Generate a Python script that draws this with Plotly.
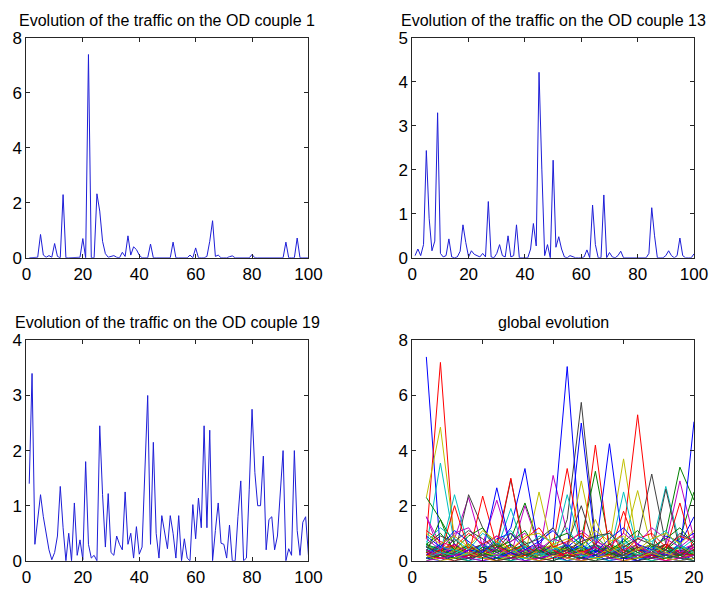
import plotly.graph_objects as go

W, H = 719, 596

# ---------------- data ----------------
x100 = list(range(1, 101))

od1 = [0, 0, 0, 0.02, 0.85, 0.1, 0.02, 0.08, 0.02, 0.52,
       0.05, 0, 2.3, 0, 0, 0, 0, 0, 0.02, 0.7,
       0, 7.4, 0, 0, 2.33, 1.7, 0.6, 0.15, 0.02, 0.05,
       0.08, 0.02, 0, 0.2, 0.05, 0.8, 0.1, 0.4, 0.3, 0.1,
       0, 0, 0, 0.5, 0, 0, 0, 0, 0, 0,
       0, 0.57, 0, 0, 0, 0, 0, 0.1, 0, 0.36,
       0, 0, 0, 0.05, 0.6, 1.35, 0.05, 0.1, 0, 0,
       0, 0.04, 0.07, 0, 0, 0, 0, 0, 0, 0.12,
       0, 0, 0, 0, 0, 0, 0, 0, 0, 0,
       0, 0.57, 0, 0, 0, 0.72, 0, 0, 0, 0]

od13 = [0.05, 0.2, 0.05, 0.3, 2.44, 0.9, 0.16, 0.38, 3.3, 0.1,
        0.02, 0.05, 0.43, 0.02, 0, 0.02, 0.15, 0.75, 0.35, 0.02,
        0.16, 0.08, 0.05, 0.02, 0.1, 0.02, 1.28, 0.02, 0, 0.1,
        0.3, 0.05, 0.02, 0.5, 0.02, 0.05, 0.75, 0, 0, 0,
        0, 0.2, 0.78, 0.27, 4.22, 2.0, 0.05, 0.3, 0, 2.22,
        0.24, 0.48, 0.2, 0.02, 0, 0.05, 0.02, 0, 0, 0,
        0.02, 0.18, 0, 1.2, 0.3, 0, 0, 1.43, 0, 0.12,
        0.02, 0, 0.05, 0.15, 0, 0, 0, 0, 0, 0,
        0, 0, 0, 0.1, 1.14, 0.5, 0, 0, 0, 0.05,
        0.16, 0.05, 0, 0.05, 0.45, 0.05, 0, 0, 0, 0.09]

od19 = [1.4, 3.4, 0.3, 0.75, 1.2, 0.8, 0.5, 0.2, 0.02, 0.15,
        0.45, 1.35, 0.6, 0, 0.5, 0, 1.05, 0.1, 0.38, 0.02,
        1.8, 0.3, 0.05, 0.1, 0, 2.45, 1.2, 0.25, 1.22, 0.15,
        0.1, 0.45, 0.3, 0.2, 1.25, 0.3, 0.5, 0.05, 0.62, 0.12,
        0.25, 1.6, 3.0, 0.3, 2.15, 0.5, 0.05, 0.82, 0.5, 0.22,
        0.82, 0.5, 0.05, 0.82, 0, 0.4, 0.05, 0, 1.02, 0.4,
        1.14, 0.6, 2.45, 0.6, 2.37, 0, 0.55, 1.05, 0.32, 0.3,
        0.05, 0.65, 0, 0, 0.8, 1.45, 0, 0.05, 1.3, 2.75,
        1.6, 1.0, 1.0, 1.9, 0.2, 0.75, 0.8, 0.2, 0.45, 1.2,
        2.0, 0, 0.22, 0.1, 2.0, 0.55, 0.1, 0.7, 0.8, 0.1]

x20 = list(range(1, 21))

global_series = [
    [7.4, 0.3, 0.1, 0.6, 0.2, 0.0, 0.4, 0.1, 0.0, 0.3, 0.1, 0.0, 0.2, 0.5, 0.1, 0.0, 0.3, 0.1, 0.0, 0.2],
    [0.4, 0.2, 0.8, 0.3, 0.1, 0.5, 0.2, 0.7, 0.1, 0.3, 0.6, 0.2, 0.4, 0.1, 0.8, 0.3, 0.2, 1.0, 3.4, 2.2],
    [0.8, 7.2, 0.3, 0.1, 0.5, 0.2, 0.0, 0.4, 0.1, 0.3, 0.0, 0.2, 0.6, 0.1, 0.3, 0.0, 0.2, 0.4, 0.1, 0.3],
    [0.5, 3.55, 0.6, 0.2, 0.4, 0.1, 0.3, 0.0, 0.2, 0.5, 0.1, 0.3, 0.2, 0.0, 0.4, 0.2, 0.1, 0.3, 0.6, 0.2],
    [0.3, 0.1, 0.5, 0.2, 0.6, 0.3, 0.1, 0.4, 0.2, 3.1, 1.0, 0.3, 0.1, 0.5, 0.2, 0.4, 0.1, 0.3, 0.2, 0.5],
    [2.3, 4.85, 0.8, 0.3, 0.1, 0.4, 0.2, 0.5, 0.1, 0.3, 0.2, 0.6, 0.1, 0.2, 0.4, 0.1, 0.3, 0.2, 0.1, 0.3],
    [0.2, 0.5, 0.1, 0.3, 0.6, 0.2, 0.4, 0.1, 0.3, 0.2, 1.5, 5.75, 0.8, 0.3, 0.1, 0.4, 0.2, 0.5, 0.1, 0.3],

    [0.1, 0.4, 0.2, 0.0, 0.3, 0.5, 0.1, 0.2, 0.6, 1.2, 7.05, 0.2, 0.4, 0.1, 0.3, 0.0, 0.2, 0.5, 0.1, 0.4],
    [0.6, 0.2, 0.4, 0.1, 0.3, 0.7, 0.2, 0.1, 0.5, 0.3, 0.2, 0.8, 3.25, 0.6, 0.2, 0.4, 0.1, 0.3, 0.5, 0.2],
    [0.2, 0.6, 0.1, 0.4, 0.2, 0.0, 0.3, 0.5, 0.1, 0.2, 0.4, 0.3, 4.2, 0.3, 0.1, 0.5, 0.2, 0.0, 0.3, 0.6],
    [0.4, 0.1, 0.3, 0.6, 0.2, 0.5, 0.0, 0.3, 0.2, 0.4, 0.1, 0.6, 0.2, 0.3, 0.8, 0.1, 0.5, 2.7, 0.6, 0.2],
    [1.6, 0.3, 0.8, 2.3, 0.5, 0.2, 0.4, 0.1, 0.6, 0.3, 0.2, 0.5, 0.1, 0.4, 0.2, 0.6, 0.3, 0.1, 0.4, 0.2],
    [0.3, 0.5, 0.2, 0.4, 0.1, 0.6, 0.3, 0.2, 0.4, 0.1, 0.5, 0.2, 0.3, 0.6, 3.7, 0.4, 0.2, 0.5, 0.1, 0.3],
    [0.1, 0.3, 0.6, 0.2, 0.4, 0.1, 0.5, 0.3, 0.2, 0.6, 0.1, 0.4, 0.2, 0.3, 0.5, 0.8, 3.15, 0.6, 0.2, 0.4],

    [0.5, 0.2, 0.4, 0.1, 0.3, 0.6, 0.2, 0.5, 0.1, 0.3, 0.4, 5.0, 0.6, 0.2, 0.5, 0.1, 0.3, 0.2, 0.6, 0.1],
    [0.2, 0.5, 0.1, 0.3, 0.6, 0.2, 0.4, 0.1, 0.5, 0.3, 0.2, 0.4, 0.6, 0.1, 0.3, 0.5, 0.2, 0.4, 0.8, 2.5],
    [0.3, 0.1, 0.5, 0.2, 0.4, 0.1, 0.6, 0.3, 0.2, 0.5, 0.1, 0.4, 0.2, 0.6, 1.0, 5.3, 0.9, 0.2, 0.4, 0.1],
    [0.6, 0.3, 2.4, 0.5, 0.2, 0.4, 0.1, 0.3, 0.6, 0.2, 0.5, 0.1, 0.4, 0.2, 0.3, 0.6, 0.1, 0.5, 0.2, 0.4],
    [0.2, 0.4, 0.1, 0.6, 0.3, 0.2, 0.5, 0.1, 0.4, 0.3, 0.6, 0.2, 0.1, 0.5, 0.3, 0.2, 0.4, 0.6, 2.9, 0.8],
    [0.4, 0.2, 0.6, 0.1, 0.3, 0.5, 0.2, 0.4, 0.1, 0.6, 0.3, 2.9, 0.5, 0.2, 0.4, 0.1, 0.3, 0.6, 0.2, 0.5],
    [0.3, 0.6, 0.2, 2.4, 1.2, 0.3, 0.5, 0.1, 0.4, 0.2, 0.6, 0.3, 0.1, 0.5, 0.2, 0.4, 0.6, 0.1, 0.3, 0.2],

    [0.2, 0.5, 0.3, 0.1, 0.4, 0.2, 0.6, 0.1, 0.3, 0.5, 0.2, 0.6, 0.3, 4.25, 0.4, 0.2, 0.5, 0.1, 0.3, 0.6],
    [2.3, 1.5, 0.6, 0.2, 0.4, 0.1, 0.5, 0.3, 0.2, 0.6, 0.1, 0.4, 0.2, 0.5, 0.3, 0.1, 0.4, 0.6, 0.2, 0.3],
    [0.4, 0.1, 0.3, 0.6, 0.2, 0.5, 0.1, 0.4, 0.3, 0.6, 3.35, 0.5, 0.2, 0.4, 0.1, 0.3, 0.6, 0.2, 0.5, 0.1],
    [0.1, 0.4, 0.2, 0.5, 0.3, 0.1, 0.6, 0.2, 0.4, 0.1, 0.5, 0.3, 0.6, 0.2, 2.5, 0.4, 0.1, 0.3, 0.5, 0.2],
    [0.5, 0.3, 0.1, 0.4, 0.6, 2.2, 0.5, 0.2, 0.4, 0.1, 0.3, 0.6, 0.2, 0.5, 0.1, 0.4, 0.3, 0.2, 0.6, 0.1],
    [0.2, 0.6, 0.4, 0.1, 0.3, 0.5, 0.2, 0.6, 0.1, 0.4, 0.2, 0.3, 0.5, 0.1, 0.6, 2.55, 0.4, 0.2, 0.3, 0.5],
    [0.6, 0.2, 0.4, 0.3, 0.1, 0.5, 2.95, 0.4, 0.2, 0.6, 0.1, 0.3, 0.5, 0.2, 0.4, 0.1, 0.6, 0.3, 0.2, 0.4],

    [0.3, 0.1, 0.5, 0.2, 0.6, 0.3, 0.1, 0.4, 0.2, 0.5, 0.3, 0.6, 0.1, 0.4, 0.2, 0.5, 0.3, 0.1, 0.2, 5.05],
    [0.5, 0.3, 0.2, 0.6, 0.1, 0.4, 0.8, 2.1, 0.6, 0.2, 0.5, 0.1, 0.3, 0.6, 0.2, 0.4, 0.1, 0.5, 0.3, 0.2],
    [0.1, 0.4, 0.6, 0.2, 2.35, 0.5, 0.3, 0.1, 0.4, 0.2, 0.6, 0.3, 0.5, 0.1, 0.4, 0.2, 0.3, 0.6, 0.1, 0.5],
    [0.4, 0.6, 0.1, 0.3, 0.5, 0.2, 0.4, 0.1, 0.6, 0.3, 2.4, 0.5, 0.2, 0.4, 0.1, 0.3, 0.6, 0.2, 0.5, 0.3],
    [0.2, 0.3, 0.5, 0.1, 0.4, 0.6, 0.2, 2.0, 0.5, 0.1, 0.3, 0.2, 0.6, 0.4, 0.1, 0.5, 0.3, 0.2, 0.4, 0.6],
    [0.6, 0.2, 0.3, 0.5, 0.1, 0.4, 0.6, 0.2, 2.5, 0.3, 0.1, 0.5, 0.2, 0.4, 0.6, 0.1, 0.3, 0.5, 0.2, 0.4],
    [0.1, 0.5, 0.2, 0.4, 0.6, 0.1, 0.3, 0.5, 0.2, 0.4, 0.6, 0.2, 0.5, 0.1, 0.3, 0.6, 0.2, 2.6, 0.4, 0.1],

    [0.4, 0.2, 0.6, 0.3, 0.1, 0.5, 1.2, 3.35, 0.4, 0.2, 0.6, 0.1, 0.3, 0.5, 0.2, 0.4, 0.1, 0.6, 0.3, 0.2],
    [0.3, 1.5, 0.2, 0.5, 0.3, 0.1, 0.4, 0.6, 0.2, 0.3, 0.5, 0.1, 0.4, 0.2, 0.6, 0.3, 0.1, 0.5, 0.2, 0.4],
    [0.2, 0.4, 0.1, 0.5, 0.3, 0.6, 3.0, 0.2, 0.5, 0.1, 0.4, 0.3, 0.2, 0.6, 0.1, 0.5, 0.3, 0.4, 2.1, 0.3],
    [0.5, 0.1, 0.3, 0.2, 0.6, 0.4, 1.9, 0.3, 0.1, 0.5, 0.2, 0.6, 0.3, 0.1, 0.4, 0.2, 0.5, 0.3, 0.6, 0.1],
    [1.6, 0.6, 0.2, 0.4, 0.1, 0.3, 0.5, 0.2, 0.6, 0.4, 0.1, 0.3, 0.5, 0.2, 0.6, 0.1, 0.4, 0.2, 0.3, 0.5],
    [0.1, 0.3, 0.5, 0.2, 0.4, 0.6, 0.1, 0.3, 0.2, 0.5, 0.4, 0.1, 1.5, 0.3, 0.6, 0.2, 0.4, 0.1, 0.5, 0.3],
    [0.4, 0.1, 0.3, 0.6, 0.2, 0.4, 0.1, 0.5, 0.3, 0.2, 0.6, 2.0, 0.4, 0.2, 0.5, 0.1, 0.3, 0.6, 0.2, 0.4],

    [0.2, 0.6, 0.1, 0.4, 0.3, 2.65, 0.5, 0.2, 0.4, 0.1, 0.3, 0.6, 0.2, 0.5, 0.1, 0.4, 0.3, 0.2, 0.6, 1.6],
    [0.6, 0.4, 0.2, 0.1, 0.5, 0.3, 0.6, 0.2, 0.4, 0.1, 0.3, 0.5, 0.2, 0.6, 0.4, 0.2, 0.1, 0.3, 0.5, 0.2],
    [0.3, 0.2, 2.0, 0.4, 0.1, 0.5, 0.3, 0.6, 0.2, 0.4, 0.1, 0.3, 0.5, 0.2, 1.8, 0.4, 0.1, 0.6, 0.3, 0.2],
    [0.1, 0.5, 0.4, 0.2, 0.6, 0.1, 0.3, 0.5, 0.2, 0.4, 0.6, 0.2, 0.1, 0.3, 0.5, 0.2, 0.4, 0.1, 0.6, 0.3],
    [0.4, 0.2, 0.6, 0.3, 0.1, 0.5, 0.2, 0.4, 0.6, 0.1, 0.3, 0.2, 0.5, 0.1, 0.4, 0.6, 0.2, 0.3, 0.1, 0.5],
    [0.2, 0.1, 0.4, 0.6, 0.3, 0.2, 0.5, 0.1, 0.4, 0.6, 0.2, 0.3, 0.1, 0.5, 0.2, 0.4, 0.6, 0.3, 0.1, 0.2],
    [0.5, 0.3, 0.1, 0.2, 0.4, 0.6, 0.3, 0.1, 0.5, 0.2, 0.4, 0.1, 0.6, 0.3, 0.2, 0.5, 0.1, 0.4, 0.2, 0.6],

    [0.1, 0.0, 0.2, 0.1, 0.0, 0.1, 0.3, 0.0, 0.1, 0.2, 0.0, 0.1, 0.2, 0.0, 0.1, 0.0, 0.2, 0.1, 0.0, 0.1],
    [0.0, 0.2, 0.1, 0.0, 0.3, 0.1, 0.0, 0.2, 0.1, 0.0, 0.2, 0.1, 0.0, 0.3, 0.1, 0.2, 0.0, 0.1, 0.2, 0.0],
    [0.2, 0.1, 0.0, 0.2, 0.1, 0.0, 0.1, 0.2, 0.0, 0.1, 0.3, 0.0, 0.1, 0.2, 0.0, 0.1, 0.2, 0.0, 0.1, 0.2],
    [0.1, 0.3, 0.2, 0.0, 0.1, 0.2, 0.0, 0.1, 0.3, 0.1, 0.0, 0.2, 0.1, 0.0, 0.2, 0.1, 0.0, 0.2, 0.1, 0.0],
    [0.0, 0.1, 0.2, 0.1, 0.0, 0.2, 0.1, 0.0, 0.1, 0.2, 0.1, 0.0, 0.3, 0.1, 0.0, 0.2, 0.1, 0.0, 0.1, 0.2],
    [0.2, 0.0, 0.1, 0.3, 0.1, 0.0, 0.2, 0.1, 0.0, 0.2, 0.1, 0.0, 0.1, 0.2, 0.0, 0.1, 0.3, 0.1, 0.0, 0.1],
    [0.1, 0.2, 0.0, 0.1, 0.2, 0.0, 0.1, 0.3, 0.1, 0.0, 0.2, 0.1, 0.0, 0.1, 0.2, 0.0, 0.1, 0.2, 0.1, 0.0],

    [0.9, 0.5, 1.1, 0.7, 0.3, 0.8, 1.0, 0.4, 0.7, 1.1, 0.5, 0.9, 0.3, 0.8, 1.2, 0.6, 0.4, 0.9, 0.7, 1.0],
    [0.6, 1.0, 0.4, 0.9, 1.2, 0.5, 0.7, 1.1, 0.3, 0.8, 1.0, 0.6, 0.9, 0.4, 0.7, 1.1, 0.5, 0.8, 1.2, 0.6],
    [1.1, 0.7, 0.5, 1.0, 0.6, 0.9, 0.4, 0.8, 1.2, 0.5, 0.7, 1.0, 0.6, 1.1, 0.3, 0.8, 1.0, 0.5, 0.9, 0.7],
    [0.7, 1.2, 0.8, 0.4, 1.0, 0.6, 1.1, 0.5, 0.9, 0.7, 1.2, 0.4, 0.8, 1.0, 0.6, 0.9, 0.7, 1.1, 0.4, 0.8],
    [0.8, 0.4, 1.0, 1.2, 0.5, 0.9, 0.7, 1.0, 0.4, 0.8, 0.6, 1.1, 0.7, 0.5, 1.0, 0.6, 1.2, 0.8, 0.5, 0.9],
    [1.0, 0.6, 0.9, 0.5, 1.1, 0.7, 0.4, 0.9, 1.0, 0.6, 0.8, 0.5, 1.1, 0.7, 0.9, 0.4, 0.8, 1.0, 0.6, 1.1],
    [0.5, 0.9, 0.7, 1.1, 0.8, 0.4, 1.0, 0.6, 0.8, 1.2, 0.4, 0.7, 0.9, 1.0, 0.5, 0.8, 0.6, 0.4, 1.0, 0.7],
]

titles = ["Evolution of the traffic on the OD couple 1",
          "Evolution of the traffic on the OD couple 13",
          "Evolution of the traffic on the OD couple 19",
          "global evolution"]

# ---------------- style ----------------
MATLAB_COLORS = ["rgb(0,0,255)", "rgb(0,128,0)", "rgb(255,0,0)", "rgb(0,191,191)",
                 "rgb(191,0,191)", "rgb(191,191,0)", "rgb(64,64,64)"]
LINE_BLUE = "rgb(30,30,215)"
FONT = "Liberation Sans, Arial, sans-serif"

def px_x(p):
    return p / W

def px_y(p):
    return 1 - p / H

# panel boxes in pixels: (left, right, top, bottom)
boxes = [(22, 311.7, 30, 257), (418.3, 707.7, 30, 257),
         (22, 311.7, 342.3, 570), (418.3, 707.7, 342.3, 570)]

fig = go.Figure()

series_main = [od1, od13, od19]
for i, ys in enumerate(series_main):
    ax = "" if i == 0 else str(i + 1)
    fig.add_trace(go.Scatter(x=x100, y=ys, mode="lines",
                             line=dict(color=LINE_BLUE, width=1),
                             xaxis="x" + ax, yaxis="y" + ax, showlegend=False,
                             hoverinfo="skip"))

for k, ys in enumerate(global_series):
    fig.add_trace(go.Scatter(x=x20, y=ys, mode="lines",
                             line=dict(color=MATLAB_COLORS[k % 7], width=1),
                             xaxis="x4", yaxis="y4", showlegend=False,
                             hoverinfo="skip"))

axis_common = dict(showgrid=False, zeroline=False, showline=True,
                   linecolor="#262626", linewidth=1, mirror="ticks",
                   ticks="inside", ticklen=4, tickcolor="#262626",
                   tickfont=dict(family=FONT, size=17, color="black"),
                   fixedrange=True)

xranges = [[0, 100], [0, 100], [0, 100], [0, 20]]
xdticks = [20, 20, 20, 5]
yranges = [[0, 8], [0, 5], [0, 4], [0, 8]]
ydticks = [2, 1, 1, 2]

layout = dict(width=W, height=H, margin=dict(l=0, r=0, t=0, b=0),
              paper_bgcolor="white", plot_bgcolor="white", showlegend=False)

annotations = []
for i, (l, r, t, b) in enumerate(boxes):
    ax = "" if i == 0 else str(i + 1)
    layout["xaxis" + ax] = dict(axis_common, domain=[px_x(l), px_x(r)],
                                range=xranges[i], dtick=xdticks[i], tick0=0,
                                anchor="y" + ax, ticklabelstandoff=1)
    layout["yaxis" + ax] = dict(axis_common, domain=[px_y(b), px_y(t)],
                                range=yranges[i], dtick=ydticks[i], tick0=0,
                                anchor="x" + ax, ticklabelstandoff=0)
    annotations.append(dict(text=titles[i], xref="paper", yref="paper",
                            x=px_x((l + r) / 2), y=px_y(t - 18),
                            xanchor="center", yanchor="middle", showarrow=False,
                            font=dict(family=FONT, size=16, color="black")))

layout["annotations"] = annotations
fig.update_layout(**layout)

fig.write_html("out.html")
